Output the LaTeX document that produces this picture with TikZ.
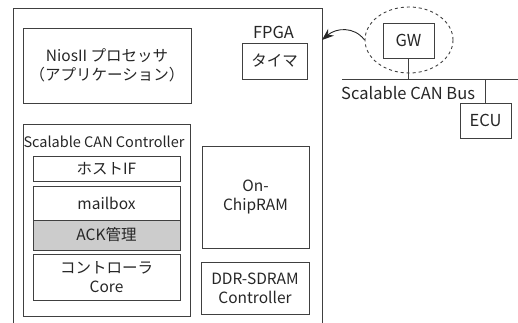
\documentclass[tikz,border=0pt]{standalone}
\usepackage{fontspec}
\setmainfont{Noto Sans CJK JP}
\usetikzlibrary{shapes.geometric,arrows.meta}
\begin{document}
\begin{tikzpicture}[x=1pt,y=-1pt,
  every node/.style={font=\fontsize{15.5}{19}\selectfont, text=black!85, inner sep=0pt},
  big/.style={font=\fontsize{16.5}{19}\selectfont},
  ttl/.style={font=\fontsize{14.5}{19}\selectfont},
  box/.style={draw=black!75, line width=0.9pt, rectangle, align=center},
  ln/.style={draw=black!75, line width=0.9pt}]
\useasboundingbox (0,0) rectangle (518,323);
% FPGA outer box (open at bottom)
\coordinate (fpgaTL) at (13,8);
\coordinate (fpgaTR) at (322,8);
\coordinate (fpgaBL) at (13,323);
\coordinate (fpgaBR) at (322,323);
\coordinate (fpgaIn) at (322,40);
\draw[ln] (fpgaBL) -- (fpgaTL) -- (fpgaTR) -- (fpgaBR);
\node[big] (fpga) at (273.5,32) {FPGA};
\node[box, minimum width=168pt, minimum height=75pt] (nios) at (107,65.5) {NiosII プロセッサ\\（アプリケーション）};
\node[box, minimum width=65pt, minimum height=36pt] (timer) at (274.5,61) {タイマ};
\node[box, minimum width=167pt, minimum height=192pt] (scc) at (106.5,220) {};
\node[ttl] (scctitle) at (104,142) {Scalable CAN Controller};
\node[box, minimum width=147pt, minimum height=25pt] (host) at (106.5,168.5) {ホストIF};
\node[box, minimum width=147pt, minimum height=34pt] (mail) at (106.5,203) {mailbox};
\node[box, fill=black!20, minimum width=147pt, minimum height=30pt] (ack) at (106.5,235) {ACK管理};
\node[box, minimum width=147pt, minimum height=46pt] (core) at (106.5,277) {コントローラ\\Core};
\node[box, minimum width=107pt, minimum height=102pt] (ram) at (255.5,197) {On-\\ChipRAM};
\node[box, minimum width=108pt, minimum height=52pt] (ddr) at (255,288) {DDR-SDRAM\\Controller};
% right side
\node[draw=black!75, line width=0.9pt, dashed, ellipse, minimum width=88pt, minimum height=66pt] (gwell) at (409,40) {};
\node[box, big, minimum width=51pt, minimum height=35pt] (gw) at (408.5,40.5) {GW};
\coordinate (busL) at (342,79);
\coordinate (busR) at (518,79);
\draw[ln] (busL) -- (busR);
\draw[ln] (gw.south) -- (gw.south |- busL);
\node[box, big, minimum width=51pt, minimum height=35pt] (ecu) at (485.5,120.5) {ECU};
\draw[ln] (ecu.north) -- (ecu.north |- busL);
\node[big, anchor=west] (bustext) at (341,93) {Scalable CAN Bus};
\draw[line width=0.9pt, black!85, -{Stealth[length=12pt,width=9pt]}] (gwell.west) .. controls (354,26) and (336,28) .. (fpgaIn);
\end{tikzpicture}
\end{document}
